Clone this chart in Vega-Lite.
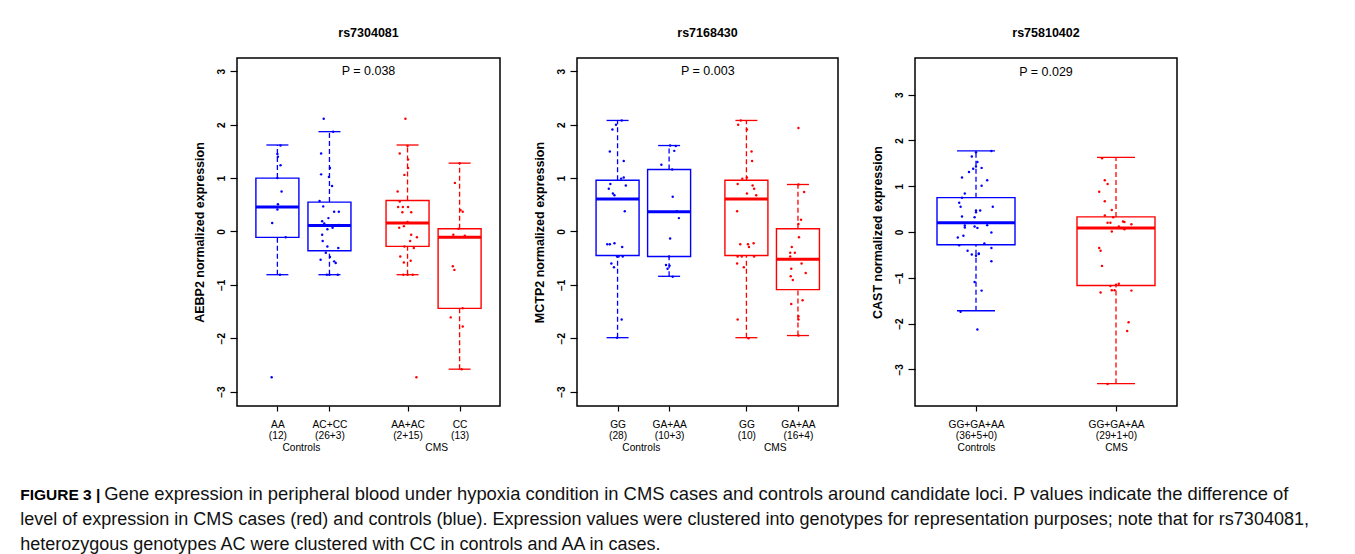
{
"$schema": "https://vega.github.io/schema/vega-lite/v6.json",
"padding": {"left": 20, "top": 25, "right": 5, "bottom": 0},
"background": "white",
"config": {
"font": "Liberation Sans",
"view": {"stroke": "#000", "strokeWidth": 1.5},
"axis": {"grid": false, "domain": false, "tickColor": "#000", "labelColor": "#000", "titleColor": "#000", "tickWidth": 1.2, "labelFlush": false, "labelOverlap": false},
"axisX": {"tickSize": 5, "labelPadding": 8, "labelFontSize": 10.2, "labelLineHeight": 11.7, "labelAngle": 0, "labelBaseline": "top"},
"axisY": {"tickSize": 7, "labelAngle": 270, "labelAlign": "center", "labelBaseline": "bottom", "labelFontSize": 10, "labelFontWeight": "bold", "labelPadding": 4, "titleFontSize": 12.5, "titleFontWeight": "bold", "titlePadding": 10},
"title": {"fontSize": 12.5, "fontWeight": "bold", "offset": 19, "color": "#000", "frame": "group"},
"tick": {"opacity": 1},
"bar": {"opacity": 1}
},
"title": {
"text": "FIGURE 3 |",
"subtitle": ["level of expression in CMS cases (red) and controls (blue). Expression values were clustered into genotypes for representation purposes; note that for rs7304081,", "heterozygous genotypes AC were clustered with CC in controls and AA in cases."],
"orient": "bottom", "anchor": "start", "frame": "bounds",
"fontSize": 15.5, "fontWeight": "bold", "color": "#000",
"subtitleFontSize": 18, "subtitleFontWeight": "normal", "subtitleColor": "#111", "subtitleLineHeight": 25,
"subtitlePadding": 7.5, "dx": -84, "dy": -16, "offset": 0
},
"datasets": {
"pts1": [
{"group":"Controls","pos":1.06,"expr":1.61},{"group":"Controls","pos":1.0,"expr":1.45},{"group":"Controls","pos":1.01,"expr":1.40},{"group":"Controls","pos":1.06,"expr":1.24},{"group":"Controls","pos":1.0,"expr":1.0},{"group":"Controls","pos":1.08,"expr":0.75},{"group":"Controls","pos":1.01,"expr":0.51},{"group":"Controls","pos":1.0,"expr":0.41},{"group":"Controls","pos":0.90,"expr":0.16},{"group":"Controls","pos":1.16,"expr":-0.11},{"group":"Controls","pos":1.05,"expr":-0.81},{"group":"Controls","pos":0.89,"expr":-2.73},
{"group":"Controls","pos":1.89,"expr":2.11},{"group":"Controls","pos":2.07,"expr":1.87},{"group":"Controls","pos":1.84,"expr":1.46},{"group":"Controls","pos":2.01,"expr":1.19},{"group":"Controls","pos":1.84,"expr":1.07},{"group":"Controls","pos":1.99,"expr":1.02},{"group":"Controls","pos":2.05,"expr":0.85},{"group":"Controls","pos":1.81,"expr":0.57},{"group":"Controls","pos":1.88,"expr":0.47},{"group":"Controls","pos":2.09,"expr":0.37},{"group":"Controls","pos":2.18,"expr":0.37},{"group":"Controls","pos":1.98,"expr":0.25},{"group":"Controls","pos":1.86,"expr":0.19},{"group":"Controls","pos":1.90,"expr":0.15},{"group":"Controls","pos":2.18,"expr":0.12},{"group":"Controls","pos":2.06,"expr":0.07},{"group":"Controls","pos":1.96,"expr":0.04},{"group":"Controls","pos":1.86,"expr":-0.06},{"group":"Controls","pos":1.87,"expr":-0.18},{"group":"Controls","pos":1.96,"expr":-0.28},{"group":"Controls","pos":2.17,"expr":-0.31},{"group":"Controls","pos":1.93,"expr":-0.40},{"group":"Controls","pos":2.01,"expr":-0.48},{"group":"Controls","pos":1.83,"expr":-0.53},{"group":"Controls","pos":2.09,"expr":-0.56},{"group":"Controls","pos":2.12,"expr":-0.59},{"group":"Controls","pos":1.95,"expr":-0.81},{"group":"Controls","pos":2.16,"expr":-0.81},{"group":"Controls","pos":2.0,"expr":-0.81},
{"group":"CMS","pos":3.46,"expr":2.11},{"group":"CMS","pos":3.5,"expr":1.6},{"group":"CMS","pos":3.35,"expr":1.46},{"group":"CMS","pos":3.51,"expr":1.35},{"group":"CMS","pos":3.51,"expr":1.19},{"group":"CMS","pos":3.44,"expr":1.06},{"group":"CMS","pos":3.31,"expr":0.75},{"group":"CMS","pos":3.35,"expr":0.56},{"group":"CMS","pos":3.32,"expr":0.46},{"group":"CMS","pos":3.41,"expr":0.46},{"group":"CMS","pos":3.51,"expr":0.46},{"group":"CMS","pos":3.4,"expr":0.36},{"group":"CMS","pos":3.57,"expr":0.36},{"group":"CMS","pos":3.5,"expr":0.18},{"group":"CMS","pos":3.34,"expr":0.07},{"group":"CMS","pos":3.43,"expr":0.10},{"group":"CMS","pos":3.57,"expr":-0.06},{"group":"CMS","pos":3.68,"expr":-0.11},{"group":"CMS","pos":3.55,"expr":-0.18},{"group":"CMS","pos":3.44,"expr":-0.28},{"group":"CMS","pos":3.62,"expr":-0.31},{"group":"CMS","pos":3.36,"expr":-0.47},{"group":"CMS","pos":3.56,"expr":-0.55},{"group":"CMS","pos":3.43,"expr":-0.58},{"group":"CMS","pos":3.5,"expr":-0.81},{"group":"CMS","pos":3.42,"expr":-0.81},{"group":"CMS","pos":3.6,"expr":-0.81},{"group":"CMS","pos":3.67,"expr":-2.73},
{"group":"CMS","pos":4.5,"expr":1.28},{"group":"CMS","pos":4.41,"expr":0.91},{"group":"CMS","pos":4.52,"expr":0.40},{"group":"CMS","pos":4.56,"expr":0.37},{"group":"CMS","pos":4.48,"expr":0.05},{"group":"CMS","pos":4.38,"expr":-0.06},{"group":"CMS","pos":4.6,"expr":-0.08},{"group":"CMS","pos":4.37,"expr":-0.65},{"group":"CMS","pos":4.4,"expr":-0.72},{"group":"CMS","pos":4.56,"expr":-1.44},{"group":"CMS","pos":4.33,"expr":-1.61},{"group":"CMS","pos":4.56,"expr":-1.78},{"group":"CMS","pos":4.54,"expr":-2.58}
],
"box1": [
{"group":"Controls","pos":1,"lo":-0.81,"q1":-0.11,"med":0.46,"q3":1.0,"hi":1.62},
{"group":"Controls","pos":2,"lo":-0.81,"q1":-0.36,"med":0.11,"q3":0.55,"hi":1.87},
{"group":"CMS","pos":3.5,"lo":-0.81,"q1":-0.28,"med":0.16,"q3":0.58,"hi":1.62},
{"group":"CMS","pos":4.5,"lo":-2.58,"q1":-1.44,"med":-0.11,"q3":0.05,"hi":1.28}
],
"pts2": [
{"group":"Controls","pos":1.08,"expr":2.08},{"group":"Controls","pos":0.97,"expr":2.0},{"group":"Controls","pos":0.9,"expr":1.91},{"group":"Controls","pos":0.85,"expr":1.5},{"group":"Controls","pos":1.12,"expr":1.32},{"group":"Controls","pos":1.07,"expr":0.99},{"group":"Controls","pos":1.12,"expr":1.01},{"group":"Controls","pos":0.86,"expr":0.89},{"group":"Controls","pos":0.83,"expr":0.8},{"group":"Controls","pos":1.16,"expr":0.86},{"group":"Controls","pos":0.91,"expr":0.71},{"group":"Controls","pos":0.94,"expr":0.68},{"group":"Controls","pos":1.14,"expr":0.38},{"group":"Controls","pos":0.8,"expr":-0.24},{"group":"Controls","pos":0.85,"expr":-0.24},{"group":"Controls","pos":0.94,"expr":-0.22},{"group":"Controls","pos":1.09,"expr":-0.29},{"group":"Controls","pos":0.99,"expr":-0.47},{"group":"Controls","pos":1.02,"expr":-0.47},{"group":"Controls","pos":1.1,"expr":-0.47},{"group":"Controls","pos":0.88,"expr":-0.6},{"group":"Controls","pos":0.93,"expr":-0.67},{"group":"Controls","pos":1.08,"expr":-1.65},{"group":"Controls","pos":0.99,"expr":-1.99},
{"group":"Controls","pos":2.02,"expr":1.61},{"group":"Controls","pos":2.13,"expr":1.6},{"group":"Controls","pos":2.1,"expr":1.51},{"group":"Controls","pos":1.85,"expr":1.25},{"group":"Controls","pos":2.06,"expr":1.16},{"group":"Controls","pos":2.07,"expr":0.65},{"group":"Controls","pos":2.15,"expr":0.38},{"group":"Controls","pos":2.19,"expr":0.25},{"group":"Controls","pos":2.02,"expr":-0.13},{"group":"Controls","pos":2.0,"expr":-0.47},{"group":"Controls","pos":1.94,"expr":-0.63},{"group":"Controls","pos":2.01,"expr":-0.64},{"group":"Controls","pos":1.97,"expr":-0.7},{"group":"Controls","pos":2.07,"expr":-0.85},
{"group":"CMS","pos":3.39,"expr":2.08},{"group":"CMS","pos":3.34,"expr":2.0},{"group":"CMS","pos":3.51,"expr":1.91},{"group":"CMS","pos":3.6,"expr":1.5},{"group":"CMS","pos":3.61,"expr":1.32},{"group":"CMS","pos":3.42,"expr":0.99},{"group":"CMS","pos":3.51,"expr":1.01},{"group":"CMS","pos":3.33,"expr":0.89},{"group":"CMS","pos":3.62,"expr":0.86},{"group":"CMS","pos":3.65,"expr":0.8},{"group":"CMS","pos":3.51,"expr":0.71},{"group":"CMS","pos":3.69,"expr":0.68},{"group":"CMS","pos":3.32,"expr":0.38},{"group":"CMS","pos":3.38,"expr":-0.24},{"group":"CMS","pos":3.53,"expr":-0.24},{"group":"CMS","pos":3.55,"expr":-0.29},{"group":"CMS","pos":3.64,"expr":-0.22},{"group":"CMS","pos":3.33,"expr":-0.47},{"group":"CMS","pos":3.41,"expr":-0.47},{"group":"CMS","pos":3.65,"expr":-0.47},{"group":"CMS","pos":3.32,"expr":-0.6},{"group":"CMS","pos":3.45,"expr":-0.67},{"group":"CMS","pos":3.33,"expr":-1.65},{"group":"CMS","pos":3.54,"expr":-2.0},
{"group":"CMS","pos":4.51,"expr":1.94},{"group":"CMS","pos":4.51,"expr":0.88},{"group":"CMS","pos":4.62,"expr":0.74},{"group":"CMS","pos":4.56,"expr":0.22},{"group":"CMS","pos":4.51,"expr":0.14},{"group":"CMS","pos":4.52,"expr":-0.11},{"group":"CMS","pos":4.38,"expr":-0.29},{"group":"CMS","pos":4.35,"expr":-0.4},{"group":"CMS","pos":4.44,"expr":-0.4},{"group":"CMS","pos":4.35,"expr":-0.47},{"group":"CMS","pos":4.57,"expr":-0.6},{"group":"CMS","pos":4.37,"expr":-0.7},{"group":"CMS","pos":4.65,"expr":-0.78},{"group":"CMS","pos":4.36,"expr":-0.84},{"group":"CMS","pos":4.4,"expr":-0.91},{"group":"CMS","pos":4.37,"expr":-1.36},{"group":"CMS","pos":4.59,"expr":-1.29},{"group":"CMS","pos":4.51,"expr":-1.59},{"group":"CMS","pos":4.51,"expr":-1.65},{"group":"CMS","pos":4.51,"expr":-1.95}
],
"box2": [
{"group":"Controls","pos":1,"lo":-1.99,"q1":-0.45,"med":0.61,"q3":0.96,"hi":2.08},
{"group":"Controls","pos":2,"lo":-0.84,"q1":-0.47,"med":0.37,"q3":1.16,"hi":1.61},
{"group":"CMS","pos":3.5,"lo":-1.99,"q1":-0.45,"med":0.61,"q3":0.96,"hi":2.08},
{"group":"CMS","pos":4.5,"lo":-1.95,"q1":-1.09,"med":-0.52,"q3":0.05,"hi":0.88}
],
"pts3": [
{"group":"Controls","pos":1.11,"expr":1.77},{"group":"Controls","pos":1.0,"expr":1.74},{"group":"Controls","pos":0.97,"expr":1.65},{"group":"Controls","pos":1.01,"expr":1.53},{"group":"Controls","pos":1.0,"expr":1.43},{"group":"Controls","pos":0.98,"expr":1.38},{"group":"Controls","pos":1.04,"expr":1.40},{"group":"Controls","pos":0.95,"expr":1.31},{"group":"Controls","pos":0.9,"expr":1.19},{"group":"Controls","pos":1.08,"expr":1.13},{"group":"Controls","pos":1.04,"expr":1.01},{"group":"Controls","pos":0.92,"expr":0.84},{"group":"Controls","pos":0.9,"expr":0.75},{"group":"Controls","pos":0.88,"expr":0.64},{"group":"Controls","pos":0.89,"expr":0.55},{"group":"Controls","pos":1.12,"expr":0.55},{"group":"Controls","pos":1.0,"expr":0.47},{"group":"Controls","pos":1.0,"expr":0.43},{"group":"Controls","pos":1.03,"expr":0.47},{"group":"Controls","pos":0.9,"expr":0.34},{"group":"Controls","pos":0.99,"expr":0.32},{"group":"Controls","pos":0.92,"expr":0.14},{"group":"Controls","pos":0.92,"expr":0.10},{"group":"Controls","pos":0.99,"expr":0.12},{"group":"Controls","pos":1.01,"expr":0.09},{"group":"Controls","pos":1.08,"expr":0.15},{"group":"Controls","pos":1.11,"expr":-0.01},{"group":"Controls","pos":0.87,"expr":-0.12},{"group":"Controls","pos":0.91,"expr":-0.08},{"group":"Controls","pos":1.06,"expr":-0.25},{"group":"Controls","pos":0.88,"expr":-0.29},{"group":"Controls","pos":1.11,"expr":-0.35},{"group":"Controls","pos":0.94,"expr":-0.41},{"group":"Controls","pos":0.97,"expr":-0.49},{"group":"Controls","pos":1.02,"expr":-0.47},{"group":"Controls","pos":1.02,"expr":-0.48},{"group":"Controls","pos":1.0,"expr":-0.52},{"group":"Controls","pos":1.11,"expr":-0.64},{"group":"Controls","pos":0.99,"expr":-1.09},{"group":"Controls","pos":1.04,"expr":-1.28},{"group":"Controls","pos":0.89,"expr":-1.74},{"group":"Controls","pos":1.01,"expr":-2.13},
{"group":"CMS","pos":1.9,"expr":1.61},{"group":"CMS","pos":1.92,"expr":1.13},{"group":"CMS","pos":1.94,"expr":1.05},{"group":"CMS","pos":1.88,"expr":0.88},{"group":"CMS","pos":1.92,"expr":0.67},{"group":"CMS","pos":1.97,"expr":0.48},{"group":"CMS","pos":1.92,"expr":0.36},{"group":"CMS","pos":1.98,"expr":0.32},{"group":"CMS","pos":1.94,"expr":0.20},{"group":"CMS","pos":1.96,"expr":0.20},{"group":"CMS","pos":2.05,"expr":0.23},{"group":"CMS","pos":2.06,"expr":0.22},{"group":"CMS","pos":2.11,"expr":0.17},{"group":"CMS","pos":2.02,"expr":0.12},{"group":"CMS","pos":2.06,"expr":0.06},{"group":"CMS","pos":1.97,"expr":0.01},{"group":"CMS","pos":1.88,"expr":-0.35},{"group":"CMS","pos":1.89,"expr":-0.41},{"group":"CMS","pos":1.9,"expr":-0.74},{"group":"CMS","pos":1.96,"expr":-1.18},{"group":"CMS","pos":2.0,"expr":-1.15},{"group":"CMS","pos":2.02,"expr":-1.13},{"group":"CMS","pos":1.97,"expr":-1.27},{"group":"CMS","pos":1.99,"expr":-1.27},{"group":"CMS","pos":1.89,"expr":-1.32},{"group":"CMS","pos":2.11,"expr":-1.28},{"group":"CMS","pos":2.09,"expr":-1.97},{"group":"CMS","pos":2.08,"expr":-2.16},{"group":"CMS","pos":1.94,"expr":-3.32}
],
"box3": [
{"group":"Controls","pos":1,"lo":-1.72,"q1":-0.28,"med":0.2,"q3":0.75,"hi":1.77},
{"group":"CMS","pos":2,"lo":-3.31,"q1":-1.17,"med":0.09,"q3":0.33,"hi":1.63}
]
},
"vconcat": [
{
"title": {"text": "Gene expression in peripheral blood under hypoxia condition in CMS cases and controls around candidate loci. P values indicate the difference of", "orient": "bottom", "anchor": "start", "frame": "bounds", "fontSize": 18.4, "fontWeight": "normal", "color": "#111", "dx": -88, "offset": 32},
"spacing": 31,
"hconcat": [
{
"width": 263, "height": 348,
"title": {"text": "rs7304081"},
"resolve": {"scale": {"x": "independent"}, "axis": {"x": "independent"}},
"layer": [
{
"encoding": {
"x": {"field": "pos", "type": "quantitative", "scale": {"domain": [0.32, 5.18], "nice": false, "zero": false}, "axis": {"title": null, "values": [1, 2, 3.5, 4.5], "labelExpr": "datum.value == 1 ? ['AA','(12)'] : datum.value == 2 ? ['AC+CC','(26+3)'] : datum.value == 3.5 ? ['AA+AC','(2+15)'] : ['CC','(13)']"}},
"y": {"field": "expr", "type": "quantitative", "scale": {"domain": [-3.27, 3.25], "nice": false, "zero": false}, "axis": {"title": "AEBP2 normalized expression", "values": [-3, -2, -1, 0, 1, 2, 3]}},
"color": {"field": "group", "type": "nominal", "scale": {"domain": ["Controls", "CMS"], "range": ["#0000FF", "#FF0000"]}, "legend": null}
},
"layer": [
{"data": {"name": "box1"}, "mark": {"type": "rule", "strokeDash": [5, 3], "strokeWidth": 1.3}, "encoding": {"y": {"field": "lo", "type": "quantitative", "axis": {"title": "AEBP2 normalized expression", "values": [-3, -2, -1, 0, 1, 2, 3]}}, "y2": {"field": "q1"}}},
{"data": {"name": "box1"}, "mark": {"type": "rule", "strokeDash": [5, 3], "strokeWidth": 1.3}, "encoding": {"y": {"field": "q3", "type": "quantitative", "axis": {"title": "AEBP2 normalized expression", "values": [-3, -2, -1, 0, 1, 2, 3]}}, "y2": {"field": "hi"}}},
{"data": {"name": "box1"}, "mark": {"type": "tick", "orient": "horizontal", "size": 22, "thickness": 1.3}, "encoding": {"y": {"field": "lo", "type": "quantitative", "axis": {"title": "AEBP2 normalized expression", "values": [-3, -2, -1, 0, 1, 2, 3]}}}},
{"data": {"name": "box1"}, "mark": {"type": "tick", "orient": "horizontal", "size": 22, "thickness": 1.3}, "encoding": {"y": {"field": "hi", "type": "quantitative", "axis": {"title": "AEBP2 normalized expression", "values": [-3, -2, -1, 0, 1, 2, 3]}}}},
{"data": {"name": "box1"}, "mark": {"type": "bar", "size": 43, "filled": false, "strokeWidth": 1.4}, "encoding": {"y": {"field": "q1", "type": "quantitative", "axis": {"title": "AEBP2 normalized expression", "values": [-3, -2, -1, 0, 1, 2, 3]}}, "y2": {"field": "q3"}}},
{"data": {"name": "box1"}, "mark": {"type": "tick", "orient": "horizontal", "size": 43, "thickness": 3}, "encoding": {"y": {"field": "med", "type": "quantitative", "axis": {"title": "AEBP2 normalized expression", "values": [-3, -2, -1, 0, 1, 2, 3]}}}},
{"data": {"name": "pts1"}, "mark": {"type": "point", "filled": true, "size": 6, "opacity": 1}},
{"data": {"values": [{"pos": 2.75, "expr": 3, "label": "P = 0.038"}]}, "mark": {"type": "text", "fontSize": 12.5, "baseline": "middle"}, "encoding": {"text": {"field": "label"}, "color": {"value": "#000"}}}
]
},
{
"data": {"values": [{"pos": 1.5}, {"pos": 4}]},
"mark": {"type": "point", "opacity": 0},
"encoding": {"x": {"field": "pos", "type": "quantitative", "scale": {"domain": [0.32, 5.18], "nice": false, "zero": false}, "axis": {"orient": "bottom", "title": null, "values": [1.5, 4], "labelExpr": "datum.value == 1.5 ? 'Controls' : 'CMS'", "ticks": false, "labelPadding": 36}}}
}
]
},
{
"width": 261, "height": 348,
"title": {"text": "rs7168430"},
"resolve": {"scale": {"x": "independent"}, "axis": {"x": "independent"}},
"layer": [
{
"encoding": {
"x": {"field": "pos", "type": "quantitative", "scale": {"domain": [0.31, 5.18], "nice": false, "zero": false}, "axis": {"title": null, "values": [1, 2, 3.5, 4.5], "labelExpr": "datum.value == 1 ? ['GG','(28)'] : datum.value == 2 ? ['GA+AA','(10+3)'] : datum.value == 3.5 ? ['GG','(10)'] : ['GA+AA','(16+4)']"}},
"y": {"field": "expr", "type": "quantitative", "scale": {"domain": [-3.27, 3.25], "nice": false, "zero": false}, "axis": {"title": "MCTP2 normalized expression", "values": [-3, -2, -1, 0, 1, 2, 3]}},
"color": {"field": "group", "type": "nominal", "scale": {"domain": ["Controls", "CMS"], "range": ["#0000FF", "#FF0000"]}, "legend": null}
},
"layer": [
{"data": {"name": "box2"}, "mark": {"type": "rule", "strokeDash": [5, 3], "strokeWidth": 1.3}, "encoding": {"y": {"field": "lo", "type": "quantitative", "axis": {"title": "MCTP2 normalized expression", "values": [-3, -2, -1, 0, 1, 2, 3]}}, "y2": {"field": "q1"}}},
{"data": {"name": "box2"}, "mark": {"type": "rule", "strokeDash": [5, 3], "strokeWidth": 1.3}, "encoding": {"y": {"field": "q3", "type": "quantitative", "axis": {"title": "MCTP2 normalized expression", "values": [-3, -2, -1, 0, 1, 2, 3]}}, "y2": {"field": "hi"}}},
{"data": {"name": "box2"}, "mark": {"type": "tick", "orient": "horizontal", "size": 22, "thickness": 1.3}, "encoding": {"y": {"field": "lo", "type": "quantitative", "axis": {"title": "MCTP2 normalized expression", "values": [-3, -2, -1, 0, 1, 2, 3]}}}},
{"data": {"name": "box2"}, "mark": {"type": "tick", "orient": "horizontal", "size": 22, "thickness": 1.3}, "encoding": {"y": {"field": "hi", "type": "quantitative", "axis": {"title": "MCTP2 normalized expression", "values": [-3, -2, -1, 0, 1, 2, 3]}}}},
{"data": {"name": "box2"}, "mark": {"type": "bar", "size": 43, "filled": false, "strokeWidth": 1.4}, "encoding": {"y": {"field": "q1", "type": "quantitative", "axis": {"title": "MCTP2 normalized expression", "values": [-3, -2, -1, 0, 1, 2, 3]}}, "y2": {"field": "q3"}}},
{"data": {"name": "box2"}, "mark": {"type": "tick", "orient": "horizontal", "size": 43, "thickness": 3}, "encoding": {"y": {"field": "med", "type": "quantitative", "axis": {"title": "MCTP2 normalized expression", "values": [-3, -2, -1, 0, 1, 2, 3]}}}},
{"data": {"name": "pts2"}, "mark": {"type": "point", "filled": true, "size": 6, "opacity": 1}},
{"data": {"values": [{"pos": 2.75, "expr": 3, "label": "P = 0.003"}]}, "mark": {"type": "text", "fontSize": 12.5, "baseline": "middle"}, "encoding": {"text": {"field": "label"}, "color": {"value": "#000"}}}
]
},
{
"data": {"values": [{"pos": 1.5}, {"pos": 4}]},
"mark": {"type": "point", "opacity": 0},
"encoding": {"x": {"field": "pos", "type": "quantitative", "scale": {"domain": [0.31, 5.18], "nice": false, "zero": false}, "axis": {"orient": "bottom", "title": null, "values": [1.5, 4], "labelExpr": "datum.value == 1.5 ? 'Controls' : 'CMS'", "ticks": false, "labelPadding": 36}}}
}
]
},
{
"width": 262, "height": 348,
"title": {"text": "rs75810402"},
"encoding": {
"x": {"field": "pos", "type": "quantitative", "scale": {"domain": [0.6, 2.4], "nice": false, "zero": false}, "axis": {"title": null, "values": [1, 2], "labelExpr": "datum.value == 1 ? ['GG+GA+AA','(36+5+0)','Controls'] : ['GG+GA+AA','(29+1+0)','CMS']"}},
"y": {"field": "expr", "type": "quantitative", "scale": {"domain": [-3.8, 3.8], "nice": false, "zero": false}, "axis": {"title": "CAST normalized expression", "values": [-3, -2, -1, 0, 1, 2, 3]}},
"color": {"field": "group", "type": "nominal", "scale": {"domain": ["Controls", "CMS"], "range": ["#0000FF", "#FF0000"]}, "legend": null}
},
"layer": [
{"data": {"name": "box3"}, "mark": {"type": "rule", "strokeDash": [5, 3], "strokeWidth": 1.3}, "encoding": {"y": {"field": "lo", "type": "quantitative", "axis": {"title": "CAST normalized expression", "values": [-3, -2, -1, 0, 1, 2, 3]}}, "y2": {"field": "q1"}}},
{"data": {"name": "box3"}, "mark": {"type": "rule", "strokeDash": [5, 3], "strokeWidth": 1.3}, "encoding": {"y": {"field": "q3", "type": "quantitative", "axis": {"title": "CAST normalized expression", "values": [-3, -2, -1, 0, 1, 2, 3]}}, "y2": {"field": "hi"}}},
{"data": {"name": "box3"}, "mark": {"type": "tick", "orient": "horizontal", "size": 38, "thickness": 1.3}, "encoding": {"y": {"field": "lo", "type": "quantitative", "axis": {"title": "CAST normalized expression", "values": [-3, -2, -1, 0, 1, 2, 3]}}}},
{"data": {"name": "box3"}, "mark": {"type": "tick", "orient": "horizontal", "size": 38, "thickness": 1.3}, "encoding": {"y": {"field": "hi", "type": "quantitative", "axis": {"title": "CAST normalized expression", "values": [-3, -2, -1, 0, 1, 2, 3]}}}},
{"data": {"name": "box3"}, "mark": {"type": "bar", "size": 78, "filled": false, "strokeWidth": 1.4}, "encoding": {"y": {"field": "q1", "type": "quantitative", "axis": {"title": "CAST normalized expression", "values": [-3, -2, -1, 0, 1, 2, 3]}}, "y2": {"field": "q3"}}},
{"data": {"name": "box3"}, "mark": {"type": "tick", "orient": "horizontal", "size": 78, "thickness": 3}, "encoding": {"y": {"field": "med", "type": "quantitative", "axis": {"title": "CAST normalized expression", "values": [-3, -2, -1, 0, 1, 2, 3]}}}},
{"data": {"name": "pts3"}, "mark": {"type": "point", "filled": true, "size": 6, "opacity": 1}},
{"data": {"values": [{"pos": 1.5, "expr": 3.5, "label": "P = 0.029"}]}, "mark": {"type": "text", "fontSize": 12.5, "baseline": "middle"}, "encoding": {"text": {"field": "label"}, "color": {"value": "#000"}}}
]
}
]
}
]
}
